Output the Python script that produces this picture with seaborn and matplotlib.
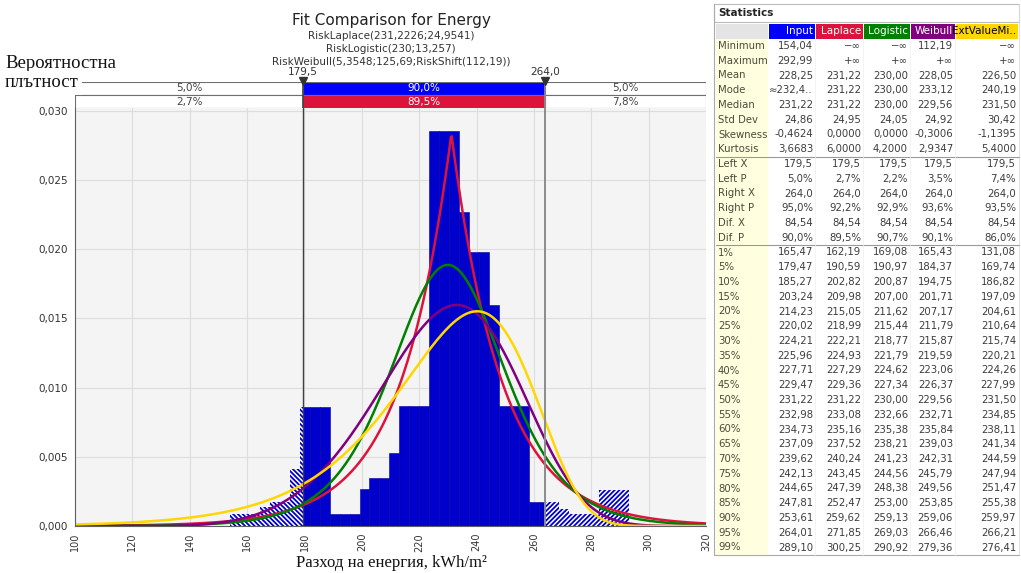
import numpy as np
import pandas as pd
import matplotlib
matplotlib.use("Agg")
import matplotlib.pyplot as plt
from matplotlib.patches import Rectangle
from matplotlib.ticker import FuncFormatter, MultipleLocator
import seaborn as sns

# --- input histogram (density per bin) ---
data_min, data_max, n_bins = 154.04, 292.99, 40
densities = [0.00087, 0.00087, 0.00087, 0.0014, 0.00176, 0.00176, 0.0041,
             0.0086, 0.0086, 0.0086, 0.00087, 0.00087, 0.00087, 0.0027,
             0.00345, 0.00345, 0.0053, 0.0087, 0.0087, 0.0087, 0.0285,
             0.0285, 0.0285, 0.0227, 0.0198, 0.0198, 0.016, 0.0087, 0.0087,
             0.0087, 0.0017, 0.0017, 0.0017, 0.0012, 0.00087, 0.00087,
             0.00087, 0.0026, 0.0026, 0.0026]

# --- fitted distributions (parameters from the chart) ---
laplace_mu, laplace_sigma = 231.2226, 24.9541
logistic_alpha, logistic_beta = 230.0, 13.257
weibull_k, weibull_lam, weibull_shift = 5.3548, 125.69, 112.19
evmin_mode, evmin_std = 240.19, 30.42

fit_names = ["Laplace", "Logistic", "Weibull", "ExtValueMin"]
fit_colors = {"Laplace": "#DC143C", "Logistic": "#008000",
              "Weibull": "#800080", "ExtValueMin": "#FFD700"}

# --- delimiters ---
left_x, right_x = 179.5, 264.0
input_p = ["5,0%", "90,0%", "5,0%"]
laplace_p = ["2,7%", "89,5%", "7,8%"]

# --- statistics table ---
row_labels = ["Minimum", "Maximum", "Mean", "Mode", "Median", "Std Dev",
              "Skewness", "Kurtosis", "Left X", "Left P", "Right X",
              "Right P", "Dif. X", "Dif. P", "1%", "5%", "10%", "15%", "20%",
              "25%", "30%", "35%", "40%", "45%", "50%", "55%", "60%", "65%",
              "70%", "75%", "80%", "85%", "90%", "95%", "99%"]
col_names = ["Input", "Laplace", "Logistic", "Weibull", "ExtValueMi.."]
input_col = ["154,04", "292,99", "228,25", "≈232,4..", "231,22", "24,86",
             "-0,4624", "3,6683", "179,5", "5,0%", "264,0", "95,0%", "84,54",
             "90,0%", "165,47", "179,47", "185,27", "203,24", "214,23",
             "220,02", "224,21", "225,96", "227,71", "229,47", "231,22",
             "232,98", "234,73", "237,09", "239,62", "242,13", "244,65",
             "247,81", "253,61", "264,01", "289,10"]
laplace_col = ["−∞", "+∞", "231,22", "231,22", "231,22", "24,95", "0,0000",
               "6,0000", "179,5", "2,7%", "264,0", "92,2%", "84,54", "89,5%",
               "162,19", "190,59", "202,82", "209,98", "215,05", "218,99",
               "222,21", "224,93", "227,29", "229,36", "231,22", "233,08",
               "235,16", "237,52", "240,24", "243,45", "247,39", "252,47",
               "259,62", "271,85", "300,25"]
logistic_col = ["−∞", "+∞", "230,00", "230,00", "230,00", "24,05", "0,0000",
                "4,2000", "179,5", "2,2%", "264,0", "92,9%", "84,54", "90,7%",
                "169,08", "190,97", "200,87", "207,00", "211,62", "215,44",
                "218,77", "221,79", "224,62", "227,34", "230,00", "232,66",
                "235,38", "238,21", "241,23", "244,56", "248,38", "253,00",
                "259,13", "269,03", "290,92"]
weibull_col = ["112,19", "+∞", "228,05", "233,12", "229,56", "24,92",
               "-0,3006", "2,9347", "179,5", "3,5%", "264,0", "93,6%",
               "84,54", "90,1%", "165,43", "184,37", "194,75", "201,71",
               "207,17", "211,79", "215,87", "219,59", "223,06", "226,37",
               "229,56", "232,71", "235,84", "239,03", "242,31", "245,79",
               "249,56", "253,85", "259,06", "266,46", "279,36"]
evmin_col = ["−∞", "+∞", "226,50", "240,19", "231,50", "30,42", "-1,1395",
             "5,4000", "179,5", "7,4%", "264,0", "93,5%", "84,54", "86,0%",
             "131,08", "169,74", "186,82", "197,09", "204,61", "210,64",
             "215,74", "220,21", "224,26", "227,99", "231,50", "234,85",
             "238,11", "241,34", "244,59", "247,94", "251,47", "255,38",
             "259,97", "266,21", "276,41"]

BLUE = "#0000CD"

sns.set_style("whitegrid", {"axes.facecolor": "#F4F4F4", "grid.color": "#DDDDDD",
                            "axes.edgecolor": "#606060"})
plt.rcParams["font.family"] = ["DejaVu Sans"]
plt.rcParams["hatch.linewidth"] = 1.3
plt.rcParams["hatch.color"] = BLUE

W, H = 1021, 573
fig = plt.figure(figsize=(W / 100, H / 100), dpi=100)

def fx(px):
    return px / W

def fy(py):
    return 1 - py / H

ax_left, ax_right, ax_top, ax_bot = 75, 706, 108, 526
ax = fig.add_axes([fx(ax_left), fy(ax_bot), fx(ax_right - ax_left), (ax_bot - ax_top) / H])
px_per_unit = (526 - 110.7) / 0.030

# histogram: solid inside the delimiters, hatched outside
edges = np.linspace(data_min, data_max, n_bins + 1)
centers = (edges[:-1] + edges[1:]) / 2
hist_df = pd.DataFrame({"x": centers, "w": densities})
bin_list = edges.tolist()

n0 = len(ax.patches)
sns.histplot(data=hist_df, x="x", weights="w", bins=bin_list, stat="count",
             facecolor=BLUE, edgecolor="#0000A0", linewidth=0.4, alpha=1, ax=ax)
for p in ax.patches[n0:]:
    p.set_clip_path(Rectangle((left_x, 0), right_x - left_x, 1, transform=ax.transData))

n1 = len(ax.patches)
sns.histplot(data=hist_df, x="x", weights="w", bins=bin_list, stat="count",
             facecolor="white", edgecolor=BLUE, hatch="\\" * 7, linewidth=0,
             alpha=1, ax=ax)
for p in ax.patches[n1:]:
    p.set_clip_path(Rectangle((90, 0), left_x - 90, 1, transform=ax.transData))

n2 = len(ax.patches)
sns.histplot(data=hist_df, x="x", weights="w", bins=bin_list, stat="count",
             facecolor="white", edgecolor=BLUE, hatch="/" * 7, linewidth=0,
             alpha=1, ax=ax)
for p in ax.patches[n2:]:
    p.set_clip_path(Rectangle((right_x, 0), 340 - right_x, 1, transform=ax.transData))

# fitted curves
xs = np.linspace(100, 320, 800)
b_lap = laplace_sigma / np.sqrt(2)
pdf_lap = np.exp(-np.abs(xs - laplace_mu) / b_lap) / (2 * b_lap)
z = (xs - logistic_alpha) / logistic_beta
pdf_log = np.exp(-z) / (logistic_beta * (1 + np.exp(-z)) ** 2)
xw = np.clip(xs - weibull_shift, 0, None)
pdf_wei = (weibull_k / weibull_lam) * (xw / weibull_lam) ** (weibull_k - 1) * np.exp(-(xw / weibull_lam) ** weibull_k)
b_ev = evmin_std * np.sqrt(6) / np.pi
zz = (xs - evmin_mode) / b_ev
pdf_ev = np.exp(zz - np.exp(zz)) / b_ev

curve_df = pd.concat([
    pd.DataFrame({"x": xs, "pdf": pdf, "fit": name})
    for name, pdf in zip(fit_names, [pdf_lap, pdf_log, pdf_wei, pdf_ev])
])
sns.lineplot(data=curve_df, x="x", y="pdf", hue="fit", hue_order=fit_names,
             palette=fit_colors, linewidth=1.8, legend=False, sort=False, ax=ax)

ax.axvline(left_x, color="#404040", lw=1.0, zorder=5)
ax.axvline(right_x, color="#8C8C8C", lw=1.4, zorder=5)

ax.set_xlim(100, 320)
ax.set_ylim(0, (ax_bot - ax_top) / px_per_unit)
ax.xaxis.set_major_locator(MultipleLocator(20))
ax.yaxis.set_major_locator(MultipleLocator(0.005))
ax.yaxis.set_major_formatter(FuncFormatter(lambda v, _: f"{v:.3f}".replace(".", ",")))
ax.tick_params(axis="x", labelrotation=90, labelsize=7, colors="#333333", length=3, pad=2)
ax.tick_params(axis="y", labelsize=7.5, colors="#333333", length=3, pad=2)
ax.set_xlabel("")
ax.set_ylabel("")
ax.grid(True, color="#DDDDDD", lw=0.8)
for s in ["top", "right"]:
    ax.spines[s].set_visible(False)

# delimiter bands above the plot
bax = fig.add_axes([fx(ax_left), fy(108), fx(ax_right - ax_left), 26 / H])
bax.set_xlim(100, 320)
bax.set_ylim(0, 2)
bax.axis("off")
seg_left = [100, left_x, right_x]
seg_w = [left_x - 100, right_x - left_x, 320 - right_x]
bax.barh([1.5] * 3, seg_w, left=seg_left, height=1,
         color=["white", "#0000FF", "white"], edgecolor="#6E6E6E", lw=0.8)
bax.barh([0.5] * 3, seg_w, left=seg_left, height=1,
         color=["white", "#DC143C", "white"], edgecolor="#6E6E6E", lw=0.8)
for i in range(3):
    mid = seg_left[i] + seg_w[i] / 2
    c = "white" if i == 1 else "#444444"
    bax.text(mid, 1.5, input_p[i], ha="center", va="center", fontsize=7.5, color=c)
    bax.text(mid, 0.5, laplace_p[i], ha="center", va="center", fontsize=7.5, color=c)
bax.vlines([left_x, right_x], 0, 2, colors=["#404040", "#8C8C8C"], lw=1.2)
bax.plot([left_x, right_x], [2.05, 2.05], linestyle="none", marker="v",
         color="#333333", ms=6, clip_on=False)
for v in [left_x, right_x]:
    bax.text(v, 2.35, f"{v:.1f}".replace(".", ","), ha="center", va="bottom",
             fontsize=7.5, color="#333333")

# titles and axis labels
fig.text(fx(391), fy(20), "Fit Comparison for Energy", ha="center", va="center",
         fontsize=11, color="#222222")
subs = ["RiskLaplace(231,2226;24,9541)", "RiskLogistic(230;13,257)",
        "RiskWeibull(5,3548;125,69;RiskShift(112,19))"]
for i, s in enumerate(subs):
    fig.text(fx(391), fy(36 + 12.5 * i), s, ha="center", va="center",
             fontsize=7.5, color="#333333")

fig.text(fx(5), fy(63), "Вероятностна", ha="left", va="center",
         family=["Liberation Serif"], fontsize=13.5, color="#111111")
fig.text(fx(5), fy(83), "плътност", ha="left", va="center",
         family=["Liberation Serif"], fontsize=13.5, color="#111111",
         bbox=dict(facecolor="white", edgecolor="none", pad=2.5))
fig.text(fx(391), fy(563), "Разход на енергия, kWh/m²", ha="center", va="center",
         family=["Liberation Serif"], fontsize=12, color="#111111")

# statistics table
tab = fig.add_axes([0, 0, 1, 1])
tab.set_xlim(0, W)
tab.set_ylim(H, 0)
tab.axis("off")
tab.patch.set_visible(False)

col_left = [768, 815, 863, 910, 955]
col_right = [815, 863, 910, 955, 1018]
col_bg = ["#0000FF", "#DC143C", "#008000", "#800080", "#FFD700"]
col_fg = ["white", "white", "white", "white", "black"]
columns = [input_col, laplace_col, logistic_col, weibull_col, evmin_col]
row0, pitch = 46, 14.75
tab_bottom = row0 + pitch * (len(row_labels) - 0.5)

tab.add_patch(Rectangle((714, 4), 305, 18, facecolor="white", edgecolor="#BBBBBB", lw=0.8))
tab.text(718, 13, "Statistics", ha="left", va="center", fontsize=7.5,
         fontweight="bold", color="#222222")
tab.add_patch(Rectangle((716, 24), 52, 15, facecolor="#E4E4E4", edgecolor="none"))
for i, name in enumerate(col_names):
    tab.add_patch(Rectangle((col_left[i] + 1, 24), col_right[i] - col_left[i] - 1, 15,
                            facecolor=col_bg[i], edgecolor="none"))
    tab.text(col_right[i] - 2, 31.5, name, ha="right", va="center",
             fontsize=7.5, color=col_fg[i])
tab.add_patch(Rectangle((716, 39), 52, tab_bottom - 39, facecolor="#FFFFE0", edgecolor="none"))
tab.plot([714, 714], [4, tab_bottom], color="#AAAAAA", lw=0.8)
tab.plot([1019, 1019], [4, tab_bottom], color="#DDDDDD", lw=0.6)
tab.plot([714, 1019], [tab_bottom, tab_bottom], color="#AAAAAA", lw=0.8)
for k in [8, 14]:
    yy = row0 + pitch * (k - 0.5)
    tab.plot([716, 1019], [yy, yy], color="#999999", lw=0.8)
for xx in col_left[1:]:
    tab.plot([xx, xx], [39, tab_bottom], color="#EEEEEE", lw=0.5)

for r, lab in enumerate(row_labels):
    yy = row0 + pitch * r
    tab.text(718, yy, lab, ha="left", va="center", fontsize=7.3, color="#4A4A3A")
    for i, col in enumerate(columns):
        tab.text(col_right[i] - 2, yy, col[r], ha="right", va="center",
                 fontsize=7.3, color="#3C3C3C")

fig.savefig("out.png", dpi=100)
